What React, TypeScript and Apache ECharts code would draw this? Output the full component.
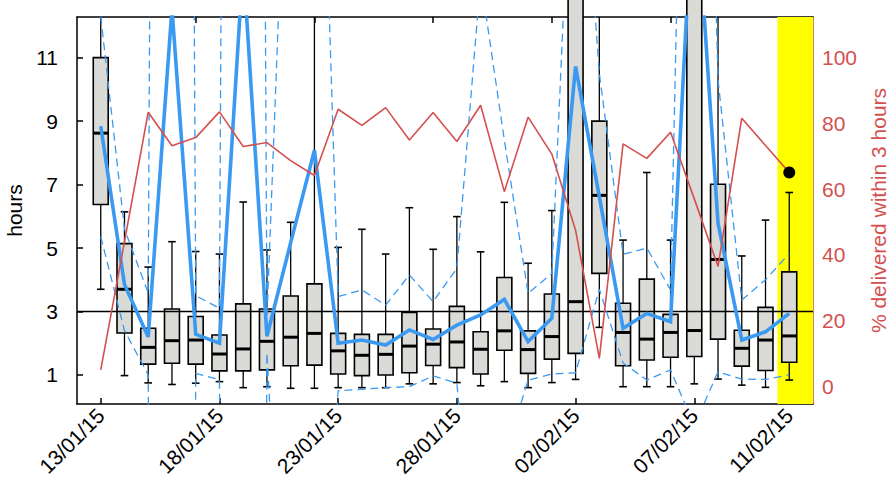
import React, { useEffect, useRef } from 'react';
import * as echarts from 'echarts';

// ---- data ----
const DATES = [
  '13/01/15', '14/01/15', '15/01/15', '16/01/15', '17/01/15', '18/01/15', '19/01/15', '20/01/15',
  '21/01/15', '22/01/15', '23/01/15', '24/01/15', '25/01/15', '26/01/15', '27/01/15', '28/01/15',
  '29/01/15', '30/01/15', '31/01/15', '01/02/15', '02/02/15', '03/02/15', '04/02/15', '05/02/15',
  '06/02/15', '07/02/15', '08/02/15', '09/02/15', '10/02/15', '11/02/15',
];

// boxplot statistics (hours)
const WHISKER_LOW = [3.7, 0.98, 0.75, 0.7, 0.74, 0.79, 0.6, 0.63, 0.58, 0.58, 0.6, 0.6, 0.6, 0.72, 0.72, 0.76, 0.66, 0.79, 0.6, 0.76, 0.86, 2.5, 0.63, 0.63, 0.63, 0.72, 0.87, 0.68, 0.61, 0.84];
const Q1 = [6.37, 2.32, 1.34, 1.37, 1.34, 1.13, 1.13, 1.16, 1.29, 1.31, 1.03, 0.98, 1.0, 1.07, 1.3, 1.23, 1.03, 1.78, 1.05, 1.5, 1.68, 4.2, 1.29, 1.47, 1.56, 1.58, 2.13, 1.28, 1.14, 1.4];
const MEDIAN = [8.62, 3.7, 1.87, 2.08, 2.1, 1.66, 1.82, 2.06, 2.19, 2.31, 1.76, 1.62, 1.65, 1.91, 1.97, 2.04, 1.81, 2.39, 1.8, 2.21, 3.31, 6.66, 2.34, 2.13, 2.34, 2.4, 4.64, 1.84, 2.1, 2.23];
const Q3 = [11.0, 5.14, 2.47, 3.08, 2.84, 2.26, 3.24, 3.08, 3.49, 3.87, 2.31, 2.28, 2.28, 2.97, 2.45, 3.16, 2.36, 4.07, 2.39, 3.55, 14.5, 9.0, 3.26, 4.02, 2.91, 14.5, 7.01, 2.41, 3.13, 4.25];
const WHISKER_HIGH = [16, 6.14, 4.4, 5.2, 4.89, 4.81, 6.45, 4.94, 5.81, 16, 5.02, 5.59, 4.81, 6.27, 4.96, 5.99, 4.88, 6.44, 4.52, 6.18, 18, 16, 5.25, 7.38, 5.25, 18, 16, 4.75, 5.88, 6.75];

// mean line and its dashed band (hours)
const MEAN_HOURS = [8.84, 3.85, 2.2, 12.55, 2.28, 2.0, 14.0, 2.22, 5.17, 8.08, 2.0, 2.1, 1.94, 2.42, 2.12, 2.57, 2.89, 3.38, 2.05, 2.79, 10.72, 6.62, 2.47, 2.94, 2.68, 17.0, 5.78, 2.1, 2.36, 2.94];
const UPPER_HOURS = [12.3, 5.6, 3.58, 150, 3.5, 3.1, 150, 2.8, 22.4, 27.3, 3.47, 3.68, 3.2, 4.15, 3.31, 4.36, 13.5, 8.4, 3.57, 4.2, 21, 10.5, 4.8, 5.0, 3.68, 38, 10.3, 3.36, 4.0, 4.83];
const LOWER_HOURS = [5.36, 2.4, 1.0, -130, 1.05, 0.85, -130, 1.7, -12, -11, 0.5, 0.55, 0.6, 0.63, 0.97, 0.74, -7.7, -1.6, 0.84, 1.03, 1.07, 3.7, 1.38, 0.84, 1.16, -0.6, 1.1, 0.87, 0.86, 1.0];

// % delivered within 3 hours (right axis)
const PCT_WITHIN_3H = [5.1, 44, 83.3, 73.1, 75.6, 83.4, 72.9, 74.1, 68.6, 64.1, 84.2, 79.3, 84.7, 74.9, 83.2, 74.4, 85.4, 59.2, 81.8, 70.6, 47.5, 8.6, 73.7, 69.3, 77.2, 57, 36.5, 81.5, 73.2, 65];

const THRESHOLD_HOURS = 3;
const HIGHLIGHT_INDEX = 29;
const HIGHLIGHT_PCT = 65;

// axis ticks
const X_LABEL_IDX = [0, 5, 10, 15, 20, 25, 29];
const X_TOP_TICK_IDX = [4, 9, 14, 19, 24, 29];
const Y_LEFT_TICKS = [1, 3, 5, 7, 9, 11];
const Y_RIGHT_TICKS = [0, 20, 40, 60, 80, 100];

const X_MIN = -1;
const X_MAX = 30;
const Y_LEFT_MIN = 0.085;
const Y_LEFT_MAX = 12.28;
const Y_RIGHT_MIN = -5.25;
const Y_RIGHT_MAX = 112.2;
const HIGHLIGHT_START = 28.5;

const FONT = '"Liberation Sans", Arial, Helvetica, sans-serif';
const FS = 21;
const BLUE = '#3a9af2';
const RED = '#d4504f';
const BOX_FILL = '#dadad7';

export default function App() {
  const ref = useRef<HTMLDivElement>(null);

  useEffect(() => {
    const chart = echarts.init(ref.current!, null, { renderer: 'svg' });

    const boxData = DATES.map((_, i) => [i, WHISKER_LOW[i], Q1[i], MEDIAN[i], Q3[i], WHISKER_HIGH[i]]);
    const pairs = (arr: number[]) => arr.map((v, i) => [i, v]);

    const option: any = {
      animation: false,
      grid: { left: 77, right: 79, top: 17, bottom: 75, containLabel: false, outerBoundsMode: 'none' },
      xAxis: [
        {
          type: 'value',
          position: 'bottom',
          min: X_MIN,
          max: X_MAX,
          axisLine: { show: true, onZero: false, lineStyle: { color: '#000', width: 1.5 } },
          axisTick: {
            show: true, inside: true, length: 6, customValues: X_LABEL_IDX,
            lineStyle: { color: '#000', width: 1.5 },
          },
          axisLabel: {
            show: true, customValues: X_LABEL_IDX,
            formatter: (v: number) => DATES[Math.round(v)] ?? '',
            rotate: 45, margin: 8, fontSize: FS, color: '#000', fontFamily: FONT,
          },
          splitLine: { show: false },
        },
        {
          type: 'value',
          position: 'top',
          min: X_MIN,
          max: X_MAX,
          axisLine: { show: true, onZero: false, lineStyle: { color: '#000', width: 1.5 } },
          axisTick: {
            show: true, inside: true, length: 6, customValues: X_TOP_TICK_IDX,
            lineStyle: { color: '#000', width: 1.5 },
          },
          axisLabel: { show: false },
          splitLine: { show: false },
        },
      ],
      yAxis: [
        {
          type: 'value',
          position: 'left',
          min: Y_LEFT_MIN,
          max: Y_LEFT_MAX,
          name: 'hours',
          nameLocation: 'middle',
          nameGap: 44,
          nameRotate: 90,
          nameTextStyle: { fontSize: FS, color: '#000', fontFamily: FONT },
          axisLine: { show: true, onZero: false, lineStyle: { color: '#000', width: 1.5 } },
          axisTick: {
            show: true, inside: true, length: 6, customValues: Y_LEFT_TICKS,
            lineStyle: { color: '#000', width: 1.5 },
          },
          axisLabel: {
            show: true, customValues: Y_LEFT_TICKS, margin: 19,
            fontSize: FS, color: '#000', fontFamily: FONT,
          },
          splitLine: { show: false },
        },
        {
          type: 'value',
          position: 'right',
          min: Y_RIGHT_MIN,
          max: Y_RIGHT_MAX,
          name: '% delivered within 3 hours',
          nameLocation: 'middle',
          nameGap: 54,
          nameRotate: 90,
          nameTextStyle: { fontSize: FS, color: RED, fontFamily: FONT },
          axisLine: { show: true, onZero: false, lineStyle: { color: RED, width: 1.5 } },
          axisTick: {
            show: true, inside: true, length: 6, customValues: Y_RIGHT_TICKS,
            lineStyle: { color: RED, width: 1.5 },
          },
          axisLabel: {
            show: true, customValues: Y_RIGHT_TICKS, margin: 9,
            fontSize: FS, color: RED, fontFamily: FONT,
          },
          splitLine: { show: false },
        },
      ],
      series: [
        {
          name: 'highlight',
          type: 'line',
          xAxisIndex: 0,
          yAxisIndex: 0,
          z: 1,
          data: [[HIGHLIGHT_START, THRESHOLD_HOURS], [X_MAX, THRESHOLD_HOURS]],
          symbol: 'none',
          lineStyle: { width: 0, opacity: 0 },
          silent: true,
          markArea: {
            silent: true,
            itemStyle: { color: '#ffff00', opacity: 1 },
            data: [[{ xAxis: HIGHLIGHT_START }, { xAxis: X_MAX }]],
          },
        },
        {
          name: 'boxes',
          type: 'custom',
          xAxisIndex: 0,
          yAxisIndex: 0,
          z: 3,
          clip: false,
          data: boxData,
          encode: { x: 0, y: [1, 2, 3, 4, 5] },
          renderItem: (params: any, api: any) => {
            const x = api.value(0);
            const wl = api.value(1);
            const q1 = api.value(2);
            const med = api.value(3);
            const q3 = api.value(4);
            const wh = api.value(5);
            const band = api.size([1, 0])[0];
            const half = band * 0.315;
            const cap = band * 0.16;
            const cs = params.coordSys;
            const top = cs.y;
            const bottom = cs.y + cs.height;
            const px = api.coord([x, med])[0];
            const yv = (v: number) => api.coord([x, v])[1];
            const yQ1 = yv(q1);
            const yQ3 = yv(q3);
            const yMed = yv(med);
            const yWhRaw = yv(wh);
            const yWh = Math.max(yWhRaw, top);
            const yWl = Math.min(yv(wl), bottom);
            const line = { stroke: '#000', lineWidth: 1.3 };
            const children: any[] = [];
            if (yWh < yQ3) {
              children.push({ type: 'line', shape: { x1: px, y1: yQ3, x2: px, y2: yWh }, style: line });
            }
            if (yWhRaw >= top) {
              children.push({ type: 'line', shape: { x1: px - cap, y1: yWhRaw, x2: px + cap, y2: yWhRaw }, style: { stroke: '#000', lineWidth: 1.6 } });
            }
            children.push({ type: 'line', shape: { x1: px, y1: yQ1, x2: px, y2: yWl }, style: line });
            children.push({ type: 'line', shape: { x1: px - cap, y1: yWl, x2: px + cap, y2: yWl }, style: { stroke: '#000', lineWidth: 1.6 } });
            children.push({
              type: 'rect',
              shape: { x: px - half, y: yQ3, width: half * 2, height: yQ1 - yQ3 },
              style: { fill: BOX_FILL, stroke: '#000', lineWidth: 1.6 },
            });
            children.push({ type: 'line', shape: { x1: px - half, y1: yMed, x2: px + half, y2: yMed }, style: { stroke: '#000', lineWidth: 3 } });
            return { type: 'group', children };
          },
        },
        {
          name: 'threshold',
          type: 'line',
          xAxisIndex: 0,
          yAxisIndex: 0,
          z: 4,
          data: [[X_MIN, THRESHOLD_HOURS], [X_MAX, THRESHOLD_HOURS]],
          symbol: 'none',
          lineStyle: { color: '#000', width: 1.4 },
          silent: true,
        },
        {
          name: 'upper',
          type: 'line',
          xAxisIndex: 0,
          yAxisIndex: 0,
          z: 5,
          data: pairs(UPPER_HOURS),
          symbol: 'none',
          clip: true,
          lineStyle: { color: BLUE, width: 1.3, type: [8, 5] },
        },
        {
          name: 'lower',
          type: 'line',
          xAxisIndex: 0,
          yAxisIndex: 0,
          z: 5,
          data: pairs(LOWER_HOURS),
          symbol: 'none',
          clip: true,
          lineStyle: { color: BLUE, width: 1.3, type: [8, 5] },
        },
        {
          name: 'mean',
          type: 'line',
          xAxisIndex: 0,
          yAxisIndex: 0,
          z: 6,
          data: pairs(MEAN_HOURS),
          symbol: 'none',
          clip: true,
          lineStyle: { color: BLUE, width: 3.6, join: 'miter' },
        },
        {
          name: 'pct',
          type: 'line',
          xAxisIndex: 0,
          yAxisIndex: 1,
          z: 7,
          data: pairs(PCT_WITHIN_3H),
          symbol: 'none',
          clip: true,
          lineStyle: { color: RED, width: 1.6 },
        },
        {
          name: 'latest',
          type: 'scatter',
          xAxisIndex: 0,
          yAxisIndex: 1,
          z: 8,
          data: [[HIGHLIGHT_INDEX, HIGHLIGHT_PCT]],
          symbol: 'circle',
          symbolSize: 12,
          itemStyle: { color: '#000', opacity: 1 },
        },
      ],
    };

    chart.setOption(option);
    return () => chart.dispose();
  }, []);

  return (
    <div
      ref={ref}
      style={{ position: 'fixed', left: 0, top: 0, width: 892, height: 479, background: '#fff' }}
    />
  );
}
